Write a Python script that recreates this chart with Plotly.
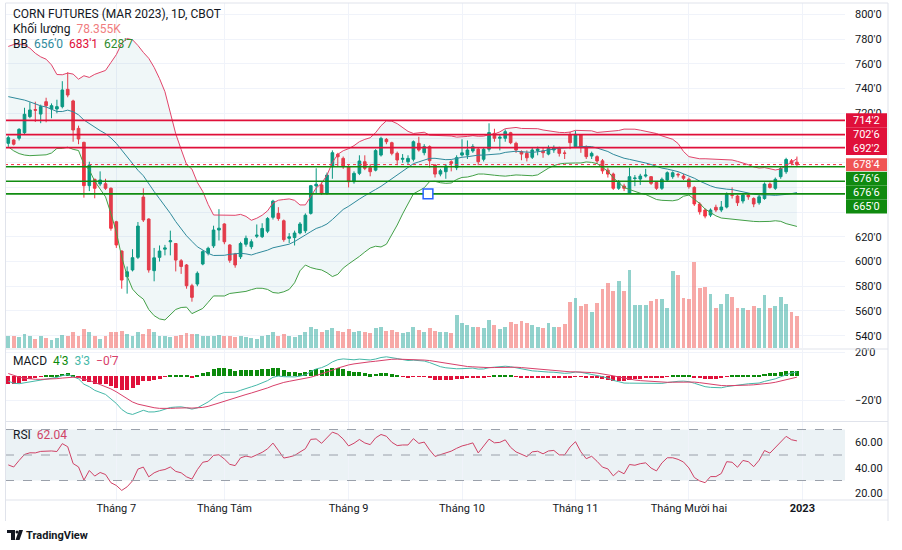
import numpy as np
import pandas as pd
import plotly.graph_objects as go

# ---------------- data ----------------
month_idx = [20, 40, 63, 84, 105, 126, 147]
month_labels = ["Tháng 7", "Tháng Tám", "Tháng 9", "Tháng 10", "Tháng 11", "Tháng Mười hai", "<b>2023</b>"]

# closes before the visible window (not drawn, only warm-up for BB / MACD / RSI) - estimated
pre_close = [688, 695, 702, 698, 705, 712, 708, 715, 722, 718, 725, 733, 740, 738, 745, 742, 735, 728, 720, 715, 710,
             712, 725, 740, 752, 760, 752, 745, 758, 766, 740, 712,
             732, 750, 745, 738, 725, 712, 708, 697.7]

open_ = [695.7, 698.4, 699.8, 704.3, 717.3, 723.0, 719.4, 729.4, 723.5, 723.5,
         725.4, 739.4, 730.0, 707.8, 696.5, 661.4, 666.6, 662.8, 663.0, 659.3,
         632.2, 608.5, 587.7, 593.2, 603.4, 652.2, 634.4, 592.6, 603.4, 610.0,
         616.0, 614.6, 600.6, 597.2, 580.4, 581.8, 598.0, 606.7, 612.7, 625.5,
         630.4, 613.4, 606.0, 603.9, 614.0, 612.0, 620.5, 620.1, 624.6, 635.8,
         639.0, 633.0, 618.8, 619.4, 623.1, 624.9, 639.0, 661.2, 662.0, 655.2,
         676.8, 686.8, 683.5, 676.8, 664.6, 671.4, 680.8, 676.0, 674.0, 686.2,
         698.9, 696.2, 687.6, 682.8, 680.8, 682.8, 695.7, 688.1, 693.0, 678.1,
         670.8, 672.7, 680.8, 676.0, 686.2, 686.2, 689.5, 690.9, 682.8, 690.9,
         703.8, 699.8, 699.8, 704.3, 695.7, 688.9, 687.6, 684.4, 689.7, 689.5,
         687.0, 690.3, 691.6, 687.9, 702.4, 693.0, 702.4, 693.0, 685.4, 684.9,
         681.5, 674.0, 670.8, 659.3, 661.1, 655.2, 667.2, 666.8, 669.2, 668.7,
         664.0, 659.3, 666.0, 668.7, 670.6, 669.2, 666.6, 660.0, 646.6, 641.7,
         637.6, 643.9, 641.7, 644.1, 654.0, 653.0, 649.0, 653.8, 651.0, 647.6,
         651.0, 662.7, 659.3, 668.7, 672.7, 681.5, 680.4]

high = [702, 699, 708, 724.5, 729, 729.4, 727, 732.6, 728, 731,
        746, 753.2, 731, 710, 697, 680.8, 667, 673, 667, 660,
        633, 609, 596, 610, 632, 659.3, 635, 611, 613, 613.5,
        625, 615, 602, 598, 582, 592, 609, 612, 629, 642.4,
        631, 614, 607, 616, 621, 618, 630, 631, 636, 650,
        644, 634, 623, 625, 632, 639, 662, 675.5, 664, 672,
        690, 688, 685, 678, 673, 686, 686, 679, 691, 701,
        700, 697, 689, 687, 686, 698, 701, 695, 694, 679,
        675, 679, 682, 686, 699, 698, 695, 692, 692, 711.9,
        707.5, 703, 707, 705, 697, 690, 690, 692, 693, 692,
        694, 694, 693, 690, 705, 706, 703, 694, 689, 686,
        683, 676, 672, 666, 663, 676, 670, 671, 675, 669,
        665, 668, 673, 673, 672, 671, 668, 661, 648, 643,
        643, 646, 649, 656, 660, 654, 655, 655, 652, 654,
        664, 664, 668, 677, 684, 683, 685]

low = [693, 694, 698, 703, 716, 713, 712, 712.7, 716, 720,
       724, 733, 697, 695, 651.7, 657, 651.2, 661, 658, 625,
       611, 578, 574, 592, 602, 632, 591, 584, 600, 605,
       605, 592, 590, 578, 567.5, 580, 597, 605, 611, 617,
       614, 599, 595, 602, 612, 610, 619, 619, 623, 634,
       633, 616, 615, 613, 622, 623, 638, 655, 654, 654,
       667, 677, 675, 660, 663, 670, 674, 669, 673, 685,
       695, 686, 678, 680, 679, 681, 689, 686, 676, 668,
       669, 667, 673, 674, 685, 683, 688, 678, 681, 689,
       697, 690, 697, 695, 688, 682, 681, 683, 686, 684,
       686, 688, 685, 683, 691, 692, 688, 683, 683, 679,
       671, 668, 658, 658, 657, 655, 661, 662, 668, 662,
       658, 658, 665, 667, 668, 666, 659, 645, 638, 635,
       636, 640, 640, 643, 651, 645, 647, 650, 644, 646,
       650, 659, 658, 667, 671, 678, 677]

close = [700.3, 695.0, 707.0, 719.2, 722.7, 722.5, 725.4, 726.2, 726.2, 725.4,
         738.9, 734.8, 706.5, 699.2, 661.4, 678.1, 659.3, 666.0, 659.3, 626.9,
         613.4, 585.0, 591.7, 603.1, 628.7, 633.6, 593.2, 603.0, 608.5, 611.0,
         616.8, 601.2, 596.0, 580.4, 571.0, 590.5, 608.0, 610.7, 625.5, 627.0,
         616.0, 601.0, 597.2, 614.6, 618.8, 616.0, 621.3, 626.8, 634.8, 648.9,
         634.8, 617.7, 620.0, 623.1, 630.4, 637.5, 661.4, 662.6, 655.2, 670.0,
         688.1, 684.8, 676.8, 664.6, 671.4, 681.4, 675.5, 672.7, 689.8, 699.7,
         697.0, 687.6, 682.2, 683.5, 683.5, 697.0, 690.3, 693.0, 681.6, 670.8,
         673.5, 677.3, 679.5, 684.1, 688.0, 690.3, 693.0, 680.8, 690.9, 704.4,
         699.8, 700.6, 705.1, 696.2, 690.3, 687.0, 684.0, 690.3, 691.1, 688.1,
         691.6, 692.2, 687.6, 687.6, 696.2, 703.0, 693.0, 684.9, 687.6, 681.4,
         673.4, 670.8, 659.3, 664.0, 659.3, 668.7, 667.6, 669.2, 670.0, 663.3,
         659.3, 666.6, 671.9, 671.9, 670.2, 667.4, 660.6, 646.6, 640.3, 636.8,
         641.7, 641.7, 644.1, 654.3, 653.6, 647.6, 653.8, 652.4, 646.6, 652.4,
         662.7, 660.0, 666.6, 675.3, 682.6, 679.5, 678.5]

volume_k = [28, 30, 26, 34, 30, 22, 28, 25, 20, 24, 32, 30, 40, 30, 45, 40, 30, 22, 28, 40,
            38, 42, 35, 30, 40, 35, 45, 38, 30, 28, 26, 30, 32, 36, 34, 35, 30, 28, 30, 32,
            30, 28, 26, 30, 26, 24, 22, 28, 32, 38, 30, 34, 28, 26, 32, 40, 52, 45, 40, 44, 48, 42, 38,
            46, 40, 42, 38, 36, 48, 50, 42, 44, 40, 36, 38, 52, 44, 40, 48, 42, 38, 40, 36, 80,
            60, 55, 50, 52, 48, 68, 55, 45, 50, 62, 58, 66, 60, 55, 50, 48, 60, 50, 52, 58,
            112, 121, 102, 107, 87, 109, 143, 158, 138, 162, 138, 189, 104, 104, 104, 114, 119, 119,
            97, 187, 177, 121, 119, 209, 146, 148, 131, 97, 107, 131, 124, 97, 97, 92, 102, 97,
            129, 97, 102, 124, 107, 87, 78.355]

price_ticks = [540, 560, 580, 600, 620, 640, 660, 680, 700, 720, 740, 760, 780, 800]
hidden_price_ticks = [640, 660, 680, 700]

red_levels = [714.25, 702.75, 692.25]
green_levels = [676.75, 665.0, 654.75]
last_price = 678.5

# ---------------- indicators ----------------
n_pre = len(pre_close)
s = pd.Series(list(pre_close) + list(close), dtype=float)
bb_mid = s.rolling(20).mean()
bb_sd = s.rolling(20).std(ddof=0)
bb_up = (bb_mid + 2 * bb_sd).iloc[n_pre:].values
bb_lo = (bb_mid - 2 * bb_sd).iloc[n_pre:].values
bb_mid = bb_mid.iloc[n_pre:].values
ema12 = s.ewm(span=12, adjust=False).mean()
ema26 = s.ewm(span=26, adjust=False).mean()
macd_s = ema12 - ema26
sig_s = macd_s.ewm(span=9, adjust=False).mean()
hist = (macd_s - sig_s).iloc[n_pre:].values
macd = macd_s.iloc[n_pre:].values
sig = sig_s.iloc[n_pre:].values
d = s.diff()
g = d.clip(lower=0).ewm(alpha=1 / 14, adjust=False).mean()
l = (-d.clip(upper=0)).ewm(alpha=1 / 14, adjust=False).mean()
rsi = (100 - 100 / (1 + g / l)).iloc[n_pre:].values

x = np.arange(len(close))
UP, DN = "#089981", "#f23645"
vcol = ["rgba(38,166,154,0.5)" if c >= o else "rgba(239,83,80,0.5)" for o, c in zip(open_, close)]
hcol = ["#0b8a0b" if h >= 0 else "#e0103a" for h in hist]

# ---------------- geometry helpers (pixels -> paper) ----------------
L, R, T, B = 5, 845, 3, 500
def fx(px):
    return (px - L) / (R - L)
def fy(py):
    return (B - py) / (B - T)

fig = go.Figure()
fig.add_trace(go.Scatter(x=x, y=bb_up, mode="lines", line=dict(color="#e2446a", width=1), hoverinfo="skip"))
fig.add_trace(go.Scatter(x=x, y=bb_lo, mode="lines", line=dict(color="#43a047", width=1), fill="tonexty",
                         fillcolor="rgba(40,140,150,0.07)", hoverinfo="skip"))
fig.add_trace(go.Scatter(x=x, y=bb_mid, mode="lines", line=dict(color="#2f8a9c", width=1), hoverinfo="skip"))
fig.add_trace(go.Candlestick(x=x, open=open_, high=high, low=low, close=close, whiskerwidth=0,
                             increasing=dict(line=dict(color=UP, width=1), fillcolor=UP),
                             decreasing=dict(line=dict(color=DN, width=1), fillcolor=DN)))
fig.add_trace(go.Bar(x=x, y=volume_k, marker=dict(color=vcol, line=dict(width=0)), width=0.72, yaxis="y2"))
fig.add_trace(go.Bar(x=x, y=hist, marker=dict(color=hcol, line=dict(width=0)), width=0.75, xaxis="x2", yaxis="y3"))
fig.add_trace(go.Scatter(x=x, y=macd, mode="lines", line=dict(color="#45b8a8", width=1), xaxis="x2", yaxis="y3"))
fig.add_trace(go.Scatter(x=x, y=sig, mode="lines", line=dict(color="#d8406a", width=1), xaxis="x2", yaxis="y3"))
fig.add_trace(go.Scatter(x=x, y=rsi, mode="lines", line=dict(color="#cf4266", width=1), xaxis="x3", yaxis="y4"))

shapes = []
# horizontal level lines
for lv in red_levels:
    shapes.append(dict(type="line", xref="x domain", yref="y", x0=0, x1=1, y0=lv, y1=lv,
                       line=dict(color="#e0103a", width=1.6)))
for lv in green_levels:
    shapes.append(dict(type="line", xref="x domain", yref="y", x0=0, x1=1, y0=lv, y1=lv,
                       line=dict(color="#118c11", width=1.6)))
shapes.append(dict(type="line", xref="x domain", yref="y", x0=0, x1=1, y0=last_price, y1=last_price,
                   line=dict(color="#f23645", width=1, dash="dot")))
# drawing handle
shapes.append(dict(type="rect", xref="x", yref="y", x0=76.8, x1=78.6, y0=650.8, y1=658.8,
                   line=dict(color="#2962ff", width=1.5), fillcolor="white"))
# RSI band and dashed lines
shapes.append(dict(type="rect", xref="x3 domain", yref="y4", x0=0, x1=1, y0=30, y1=70,
                   fillcolor="rgba(120,170,190,0.15)", line=dict(width=0), layer="below"))
for lv in [70, 50, 30]:
    shapes.append(dict(type="line", xref="x3 domain", yref="y4", x0=0, x1=1, y0=lv, y1=lv,
                       line=dict(color="#9aa0aa", width=1, dash="dash")))
# pane separators and frame (left, top, right)
for py in [349, 421.5, 500]:
    shapes.append(dict(type="line", xref="paper", yref="paper", x0=fx(5), x1=fx(888), y0=fy(py), y1=fy(py),
                       line=dict(color="#e0e3eb", width=1)))
shapes.append(dict(type="path", xref="paper", yref="paper",
                   path=f"M {fx(5.5)},{fy(521)} L {fx(5.5)},{fy(3)} L {fx(888)},{fy(3)} L {fx(888)},{fy(521)}",
                   line=dict(color="#e0e3eb", width=1)))

annotations = []
# price label boxes
boxes = [("714'2", 113.3, 127.2, "#e0103a"), ("702'6", 127.2, 141.1, "#e0103a"), ("692'2", 141.1, 155.0, "#e0103a"),
         ("678'4", 158.3, 171.0, "#f05454"),
         ("676'6", 171.7, 185.6, "#0f8a0f"), ("676'6", 185.6, 199.5, "#0f8a0f"), ("665'0", 199.5, 213.4, "#0f8a0f")]
for txt, y0, y1, colr in boxes:
    shapes.append(dict(type="rect", xref="paper", yref="paper", x0=fx(846), x1=fx(887), y0=fy(y1), y1=fy(y0),
                       fillcolor=colr, line=dict(width=0), layer="above"))
    annotations.append(dict(xref="paper", yref="paper", x=fx(867), y=fy((y0 + y1) / 2), text=txt, showarrow=False,
                            font=dict(color="white", size=11), xanchor="center", yanchor="middle"))

FONT = "Roboto, Arial, sans-serif"
def leg(text, px, py, size=12):
    annotations.append(dict(xref="paper", yref="paper", x=fx(px), y=fy(py), text=text, showarrow=False,
                            xanchor="left", yanchor="middle", font=dict(size=size, color="#131722")))

leg("CORN FUTURES (MAR 2023), 1D, CBOT", 11, 14)
leg("Khối lượng  <span style='color:#f07d80'>78.355K</span>", 11, 29)
leg("BB  <span style='color:#2f8a9c'>656'0</span>  <span style='color:#e0103a'>683'1</span>  "
    "<span style='color:#2e8b2e'>628'7</span>", 11, 44)
leg("MACD  <span style='color:#0b8a0b'>4'3</span>  <span style='color:#45b8a8'>3'3</span>  "
    "<span style='color:#d8406a'>−0'7</span>", 11, 361)
leg("RSI  <span style='color:#cf4266'>62.04</span>", 11, 435)
leg("<b>TradingView</b>", 24, 535, size=11)

# TradingView logo glyph
shapes.append(dict(type="rect", xref="paper", yref="paper", x0=fx(7), x1=fx(15), y0=fy(533), y1=fy(530),
                   fillcolor="#131722", line=dict(width=0)))
shapes.append(dict(type="rect", xref="paper", yref="paper", x0=fx(11), x1=fx(15), y0=fy(540), y1=fy(530),
                   fillcolor="#131722", line=dict(width=0)))
shapes.append(dict(type="circle", xref="paper", yref="paper", x0=fx(15.5), x1=fx(18.5), y0=fy(533.5), y1=fy(530.5),
                   fillcolor="#131722", line=dict(width=0)))
shapes.append(dict(type="path", xref="paper", yref="paper",
                   path=f"M {fx(19)},{fy(530)} L {fx(23)},{fy(530)} L {fx(19.5)},{fy(540)} L {fx(15.5)},{fy(540)} Z",
                   fillcolor="#131722", line=dict(width=0)))

xcommon = dict(range=[-0.61, 154.9], tickvals=month_idx, showgrid=True, gridcolor="#f0f3fa", gridwidth=1,
               zeroline=False, showline=False, ticks="", rangeslider=dict(visible=False), automargin=False)
ycommon = dict(side="right", showgrid=True, gridcolor="#f0f3fa", zeroline=False, showline=False, ticks="",
               ticklabelstandoff=9, tickfont=dict(size=11, color="#131722"), automargin=False)

price_text = [("" if v in hidden_price_ticks else f"{v}'0") for v in price_ticks]

fig.update_layout(
    width=902, height=550,
    margin=dict(l=L, r=902 - R, t=T, b=550 - B, pad=0, autoexpand=False),
    paper_bgcolor="white", plot_bgcolor="white",
    showlegend=False, bargap=0,
    font=dict(family=FONT, size=11, color="#131722"),
    xaxis=dict(**xcommon, anchor="y", domain=[0, 1], showticklabels=False),
    xaxis2=dict(**xcommon, anchor="y3", domain=[0, 1], matches="x", showticklabels=False),
    xaxis3=dict(**xcommon, anchor="y4", domain=[0, 1], matches="x", showticklabels=True,
                ticktext=month_labels, tickfont=dict(size=11, color="#131722")),
    yaxis=dict(**ycommon, domain=[fy(348), 1], range=[530, 809.3], tickvals=price_ticks, ticktext=price_text),
    yaxis2=dict(overlaying="y", range=[0, 836.6], visible=False, showgrid=False, automargin=False),
    yaxis3=dict(**ycommon, domain=[fy(421), fy(350)], range=[-37.5, 21.7], tickvals=[-20, 20],
                ticktext=["−20'0", "20'0"]),
    yaxis4=dict(**{**ycommon, "showgrid": False}, domain=[0, fy(422)], range=[14.7, 75.9], tickvals=[20, 40, 60],
                ticktext=["20.00", "40.00", "60.00"]),
    shapes=shapes, annotations=annotations,
)

fig.write_html("out.html")
